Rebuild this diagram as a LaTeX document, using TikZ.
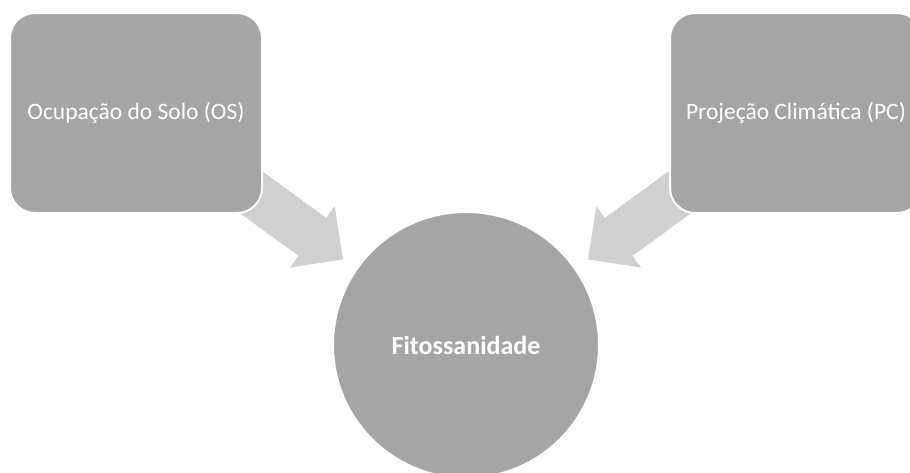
\documentclass[tikz,border=0pt]{standalone}
\usepackage{fontspec}
\setmainfont{Carlito}
\definecolor{boxgray}{HTML}{A5A5A5}
\definecolor{arrowgray}{HTML}{D0D0D0}
\tikzset{
  sqbox/.style={draw=white, line width=2pt, fill=boxgray, rounded corners=25pt,
    minimum width=252pt, minimum height=200pt, inner sep=0pt, text=white,
    font=\fontsize{23.5}{28}\selectfont},
  circ/.style={circle, draw=white, line width=2pt, fill=boxgray, minimum size=266pt,
    inner sep=0pt, text=white, font=\fontsize{26}{30}\selectfont\bfseries},
  blockarrow/.style={fill=arrowgray, draw=none}
}
\begin{document}
\begin{tikzpicture}[x=1pt,y=-1pt]
\useasboundingbox (0,0) rectangle (910,472);
\clip (0,0) rectangle (910,472);
% block arrows (drawn beneath the boxes)
\fill[blockarrow] (243.8,157.7) -- (326.2,217.9) -- (334.7,206.2) -- (343.0,259.3)
  -- (289.9,267.6) -- (298.4,255.8) -- (216.1,195.7) -- cycle;
\fill[blockarrow] (687.2,157.7) -- (604.8,217.9) -- (596.3,206.2) -- (588.0,259.3)
  -- (641.1,267.6) -- (632.6,255.8) -- (714.9,195.7) -- cycle;
\node[sqbox] (os) at (136,113) {Ocupação do Solo (OS)};
\node[sqbox] (pc) at (796,113) {Projeção Climática (PC)};
\node[circ] (fit) at (466,345) {Fitossanidade};
\end{tikzpicture}
\end{document}
